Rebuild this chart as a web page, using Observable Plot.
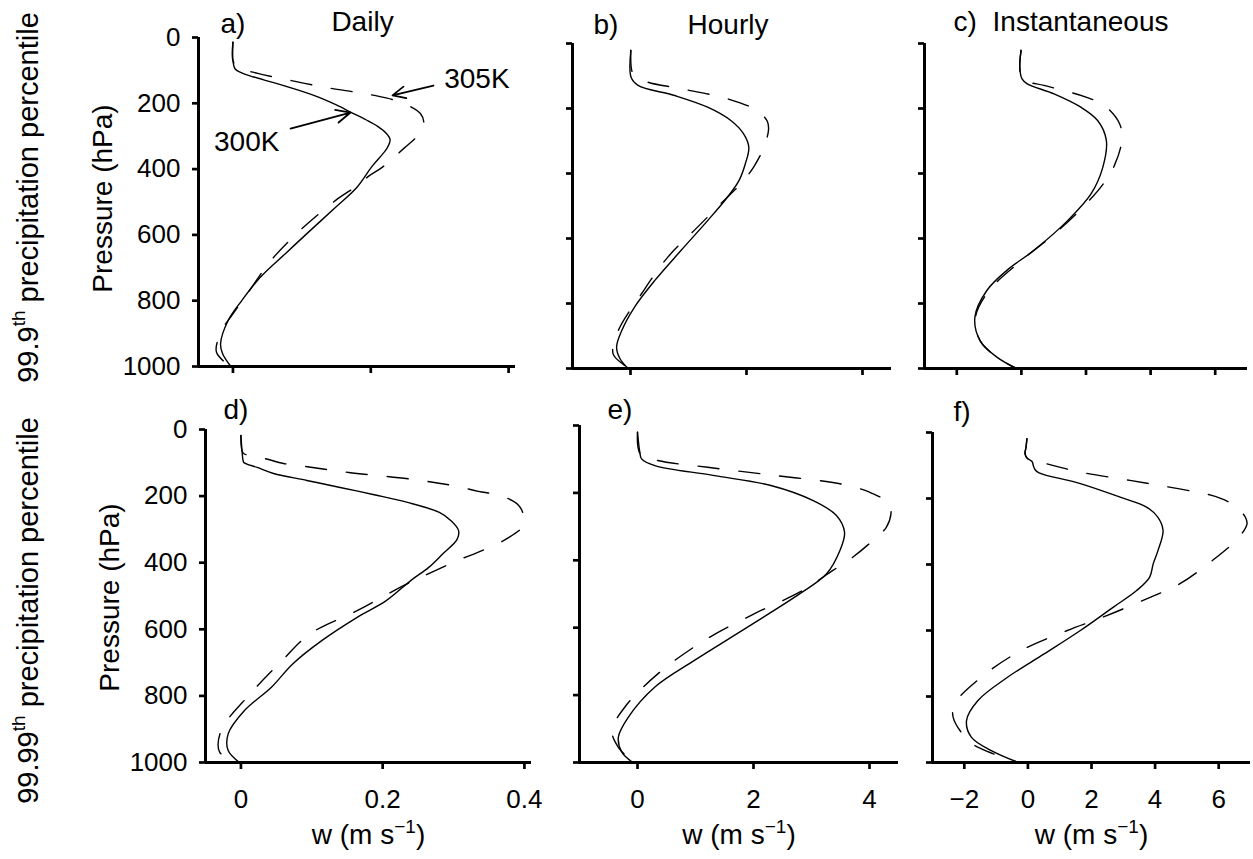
<!DOCTYPE html>
<html>
<head>
<meta charset="utf-8">
<script src="https://cdn.jsdelivr.net/npm/d3@7"></script>
<script src="https://cdn.jsdelivr.net/npm/@observablehq/plot@0.6"></script>
<style>
  body { margin: 0; background: #fff; }
  #fig { position: relative; width: 1253px; height: 859px; overflow: hidden; background: #fff; }
</style>
</head>
<body>
<div id="fig"></div>
<script>
// ---------- data: [pressure (hPa), w (m s^-1)] ----------
const pressureTicks = [0, 200, 400, 600, 800, 1000];
const dailyTicks = [0, 0.2, 0.4];
const hourlyTicks = [0, 2, 4];
const instTicks = [-2, 0, 2, 4, 6];
const columnTitles = ["Daily", "Hourly", "Instantaneous"];
const panelLetters = ["a)", "b)", "c)", "d)", "e)", "f)"];
const rowPercentiles = ["99.9", "99.99"];
const xTitle = "w (m s\u22121)";
const yTitle = "Pressure (hPa)";

// 99.9th percentile
const daily999_300K = [[14,0],[70,0],[95,0.003],[106,0.011],[120,0.03],[137,0.059],[160,0.095],[182,0.125],[205,0.150],[228,0.172],[250,0.193],[270,0.210],[290,0.222],[310,0.228],[335,0.224],[394,0.201],[455,0.180],[516,0.149],[587,0.112],[657,0.076],[728,0.040],[799,0.013],[860,-0.007],[931,-0.018],[961,-0.015],[1000,-0.003]];
const daily999_305K = [[14,0],[70,0],[91,0.007],[109,0.036],[131,0.085],[152,0.135],[167,0.180],[176,0.205],[198,0.245],[231,0.272],[260,0.277],[289,0.272],[337,0.248],[394,0.217],[420,0.198],[455,0.177],[495,0.149],[587,0.097],[678,0.055],[769,0.024],[840,0.0],[890,-0.016],[956,-0.024],[1000,-0.004]];
const hourly999_300K = [[21,0.006],[104,0.01],[129,0.13],[160,0.76],[196,1.33],[237,1.73],[278,1.95],[319,2.04],[370,1.98],[422,1.87],[473,1.67],[545,1.33],[637,0.87],[729,0.42],[811,0.07],[883,-0.15],[934,-0.24],[970,-0.18],[1000,-0.04]];
const hourly999_305K = [[21,0.006],[88,0.03],[100,0.1],[119,0.30],[139,0.87],[170,1.67],[206,2.18],[240,2.36],[265,2.38],[319,2.30],[381,2.12],[432,1.90],[473,1.67],[575,1.10],[658,0.64],[770,0.19],[883,-0.21],[955,-0.30],[991,-0.10],[1000,-0.05]];
const inst999_300K = [[21,-0.01],[73,-0.05],[109,0.02],[124,0.18],[155,1.01],[196,1.84],[237,2.36],[298,2.63],[381,2.52],[462,2.16],[545,1.43],[637,0.38],[698,-0.45],[760,-1.07],[842,-1.44],[914,-1.28],[965,-0.76],[1000,-0.15]];
const inst999_305K = [[21,-0.01],[73,-0.05],[109,0.02],[129,0.70],[145,1.32],[165,2.0],[191,2.57],[247,3.04],[298,3.11],[375,2.88],[427,2.57],[483,2.10],[575,1.15],[668,0.0],[760,-1.0],[842,-1.42],[914,-1.28],[965,-0.76],[1000,-0.15]];

// 99.99th percentile
const daily9999_300K = [[18,0],[93,0.003],[99,0.004],[114,0.023],[132,0.046],[153,0.093],[174,0.14],[196,0.188],[219,0.235],[249,0.28],[273,0.296],[303,0.307],[330,0.305],[373,0.285],[414,0.265],[453,0.240],[514,0.205],[564,0.164],[634,0.114],[704,0.073],[774,0.043],[844,0.005],[914,-0.018],[964,-0.018],[1000,-0.002]];
const daily9999_305K = [[18,0],[70,0.003],[78,0.013],[88,0.035],[102,0.06],[111,0.091],[129,0.152],[150,0.243],[171,0.306],[186,0.335],[198,0.366],[228,0.392],[260,0.399],[288,0.399],[327,0.376],[363,0.341],[393,0.306],[433,0.265],[468,0.230],[544,0.164],[613,0.098],[694,0.058],[794,0.013],[904,-0.028],[969,-0.030],[1000,-0.005]];
const hourly9999_300K = [[20,0],[79,0.04],[99,0.07],[119,0.30],[148,1.30],[178,2.30],[223,3.03],[267,3.43],[317,3.57],[371,3.49],[440,3.26],[499,2.80],[599,1.89],[697,0.98],[776,0.30],[866,-0.16],[925,-0.33],[969,-0.27],[1000,-0.08]];
const hourly9999_305K = [[20,0],[85,0.05],[104,0.35],[124,1.21],[148,2.35],[173,3.49],[198,4.0],[232,4.34],[262,4.37],[302,4.29],[341,4.06],[391,3.71],[430,3.37],[494,2.80],[559,2.01],[638,1.15],[737,0.35],[836,-0.22],[905,-0.44],[955,-0.33],[994,-0.11],[1000,-0.08]];
const inst9999_300K = [[19,-0.03],[45,-0.06],[65,-0.09],[78,-0.02],[88,0.13],[100,0.17],[112,0.22],[122,0.35],[155,1.65],[196,2.90],[226,3.73],[257,4.09],[297,4.25],[358,4.09],[398,3.94],[438,3.83],[479,3.42],[529,2.69],[600,1.65],[671,0.51],[741,-0.63],[812,-1.57],[873,-1.93],[923,-1.78],[964,-1.15],[1000,-0.3]];
const inst9999_305K = [[19,-0.03],[45,-0.06],[65,-0.09],[78,-0.02],[90,0.40],[120,1.65],[145,3.21],[171,4.77],[190,5.75],[211,6.32],[235,6.65],[257,6.84],[277,6.89],[317,6.64],[388,5.80],[459,4.77],[504,3.73],[555,2.48],[600,1.24],[661,-0.22],[741,-1.46],[822,-2.30],[863,-2.35],[933,-1.88],[959,-1.46],[1000,-0.3]];

// annotations in panel a (w, p)
const annotLabels = [{label: "305K", w: 0.354, p: 125}, {label: "300K", w: 0.020, p: 319}];
const annotArrows = [{w1: 0.291, p1: 146, w2: 0.2315, p2: 176}, {w1: 0.0835, p1: 277, w2: 0.1706, p2: 228}];

// ---------- layout ----------
const FONT = "'Liberation Sans', Arial, Helvetica, sans-serif";
const columns = [
  {domain: [-0.05, 0.41], ticks: dailyTicks},
  {domain: [-1, 4.5], ticks: hourlyTicks},
  {domain: [-3, 7], ticks: instTicks}
];
const seriesGrid = [
  [[daily999_300K, daily999_305K], [hourly999_300K, hourly999_305K], [inst999_300K, inst999_305K]],
  [[daily9999_300K, daily9999_305K], [hourly9999_300K, hourly9999_305K], [inst9999_300K, inst9999_305K]]
];
const panels = [
  {row:0, col:0, left:0,   top:0,   width:560, height:400, mL:198, mR:45, mT:37, mB:34, letter:[22,-5],  title:[5.5,-7]},
  {row:0, col:1, left:560, top:0,   width:350, height:400, mL:12,  mR:19, mT:43, mB:32, letter:[21,-10], title:[-4,-10]},
  {row:0, col:2, left:910, top:0,   width:343, height:400, mL:14,  mR:6,  mT:43, mB:32, letter:[29,-13], title:[-5.5,-13]},
  {row:1, col:0, left:0,   top:400, width:560, height:459, mL:205, mR:29, mT:29, mB:97, letter:[18,-11]},
  {row:1, col:1, left:560, top:400, width:350, height:459, mL:19,  mR:12, mT:25, mB:97, letter:[28,-7]},
  {row:1, col:2, left:910, top:400, width:343, height:459, mL:22,  mR:3,  mT:32, mB:97, letter:[21,-12]}
];

function supText(svg, full, before, sup, after, fs, supFs, shift) {
  for (const t of svg.querySelectorAll("text")) {
    if (t.textContent !== full) continue;
    t.textContent = "";
    const mk = (s, dy, size) => {
      const ts = document.createElementNS("http://www.w3.org/2000/svg", "tspan");
      if (dy) ts.setAttribute("dy", dy);
      if (size) ts.setAttribute("font-size", size);
      ts.textContent = s;
      t.appendChild(ts);
    };
    mk(before);
    mk(sup, -shift, supFs);
    mk(after, shift, fs);
  }
}

const fig = document.getElementById("fig");
panels.forEach((cfg, i) => {
  const col = columns[cfg.col];
  const x0 = col.domain[0];
  const [s300, s305] = seriesGrid[cfg.row][cfg.col];
  const lineOpts = {x: d => d[1], y: d => d[0], stroke: "black", strokeWidth: 1.4, curve: "catmull-rom"};
  const marks = [
    // outward tick marks (thick, like the original)
    Plot.ruleY(pressureTicks, {y: d => d, x1: x0, x2: x0, insetLeft: -6, stroke: "black", strokeWidth: 2.7}),
    Plot.ruleX(col.ticks, {x: d => d, y1: 1000, y2: 1000, insetBottom: -7, stroke: "black", strokeWidth: 2.7}),
    // axis lines
    Plot.ruleX([x0], {stroke: "black", strokeWidth: 3}),
    Plot.ruleY([1000], {stroke: "black", strokeWidth: 3}),
    Plot.line(s305, {...lineOpts, strokeDasharray: "21,20"}),
    Plot.line(s300, lineOpts),
    Plot.text([panelLetters[i]], {text: d => d, frameAnchor: "top-left", dx: cfg.letter[0], dy: cfg.letter[1], textAnchor: "start", lineAnchor: "bottom", fontSize: 28, fill: "black"})
  ];
  if (cfg.row === 0) {
    marks.push(Plot.text([columnTitles[cfg.col]], {text: d => d, frameAnchor: "top", dx: cfg.title[0], dy: cfg.title[1], textAnchor: "middle", lineAnchor: "bottom", fontSize: 28, fill: "black"}));
  }
  if (cfg.col === 0) {
    marks.push(Plot.text([yTitle], {text: d => d, frameAnchor: "left", dx: -95, dy: cfg.row === 0 ? -3.5 : 1.5, rotate: -90, textAnchor: "middle", lineAnchor: "middle", fontSize: 28, fill: "black"}));
    marks.push(Plot.text([rowPercentiles[cfg.row] + "th precipitation percentile"], {text: d => d, frameAnchor: "left", dx: 28.5 - cfg.mL, dy: cfg.row === 0 ? -4.5 : 14.5, rotate: -90, textAnchor: "middle", lineAnchor: "middle", fontSize: 29, fill: "black"}));
  }
  if (cfg.row === 1) {
    marks.push(Plot.text([xTitle], {text: d => d, frameAnchor: "bottom", dy: 81, textAnchor: "middle", lineAnchor: "bottom", fontSize: 28, fill: "black"}));
  }
  if (cfg.row === 0 && cfg.col === 0) {
    marks.push(Plot.arrow(annotArrows, {x1: "w1", y1: "p1", x2: "w2", y2: "p2", stroke: "black", strokeWidth: 1.8, headLength: 13, headAngle: 50}));
    marks.push(Plot.text(annotLabels, {x: "w", y: "p", text: "label", fontSize: 28, fill: "black", textAnchor: "middle", lineAnchor: "middle"}));
  }
  const svg = Plot.plot({
    width: cfg.width, height: cfg.height,
    marginLeft: cfg.mL, marginRight: cfg.mR, marginTop: cfg.mT, marginBottom: cfg.mB,
    x: {domain: col.domain, ticks: col.ticks, tickSize: 0, tickPadding: 27, label: null,
        tickFormat: cfg.row === 1 ? (d => d3.format("")(d).replace("-", "\u2212")) : (() => "")},
    y: {domain: [0, 1000], reverse: true, ticks: pressureTicks, tickSize: 0, tickPadding: 18, label: null,
        tickFormat: cfg.col === 0 ? (d => String(d)) : (() => "")},
    style: {fontFamily: FONT, fontSize: "26px", color: "black", background: "transparent", overflow: "visible", maxWidth: "none", position: "absolute", left: cfg.left + "px", top: cfg.top + "px"},
    marks
  });
  supText(svg, xTitle, "w (m s", "\u22121", ")", 28, 19, 11);
  for (const r of rowPercentiles) supText(svg, r + "th precipitation percentile", r, "th", " precipitation percentile", 29, 19, 13);
  fig.appendChild(svg);
});
</script>
</body>
</html>
